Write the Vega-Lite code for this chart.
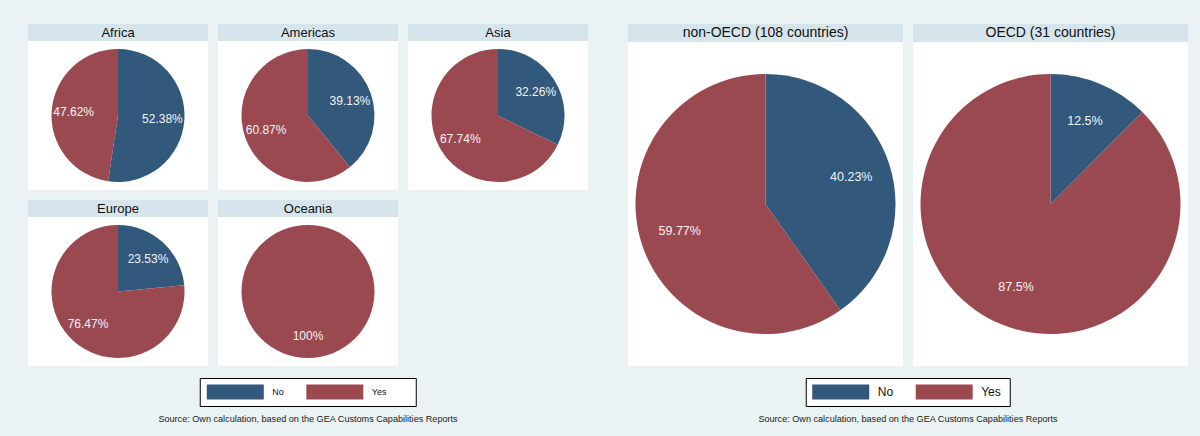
{
  "$schema": "https://vega.github.io/schema/vega-lite/v6.json",
  "background": "#eaf2f3",
  "padding": {"left": 28, "top": 24, "right": 12, "bottom": 13},
  "config": {"view": {"stroke": null}, "font": "Liberation Sans"},
  "datasets": {
    "pies": [
      {"group": "Africa", "cat": "No", "share": 0.5238},
      {"group": "Africa", "cat": "Yes", "share": 0.4762},
      {"group": "Americas", "cat": "No", "share": 0.3913},
      {"group": "Americas", "cat": "Yes", "share": 0.6087},
      {"group": "Asia", "cat": "No", "share": 0.3226},
      {"group": "Asia", "cat": "Yes", "share": 0.6774},
      {"group": "Europe", "cat": "No", "share": 0.2353},
      {"group": "Europe", "cat": "Yes", "share": 0.7647},
      {"group": "Oceania", "cat": "Yes", "share": 1.0},
      {"group": "non-OECD", "cat": "No", "share": 0.4023},
      {"group": "non-OECD", "cat": "Yes", "share": 0.5977},
      {"group": "OECD", "cat": "No", "share": 0.125},
      {"group": "OECD", "cat": "Yes", "share": 0.875}
    ]
  },
  "spacing": 40,
  "hconcat": [
    {
      "spacing": 11,
      "center": true,
      "vconcat": [
        {
          "columns": 3,
          "spacing": {"row": 10, "column": 10},
          "concat": [
            {"spacing": 0, "vconcat": [
              {"width": 180, "height": 17, "view": {"fill": "#d6e4eb"}, "data": {"values": [{"name": "Africa"}]}, "mark": {"type": "text", "fontSize": 13, "color": "#111111"}, "encoding": {"text": {"field": "name"}}},
              {"width": 180, "height": 149, "view": {"fill": "white"}, "data": {"name": "pies"}, "transform": [{"filter": "datum.group === 'Africa'"}],
               "layer": [
                 {"mark": {"type": "arc", "outerRadius": 66.5}, "encoding": {"theta": {"field": "share", "type": "quantitative", "stack": true}, "order": {"field": "cat", "type": "ordinal", "sort": "ascending"}, "color": {"field": "cat", "type": "nominal", "scale": {"domain": ["No", "Yes"], "range": ["#32587c", "#9b4950"]}, "legend": null}}},
                 {"mark": {"type": "text", "radius": 44.5, "fontSize": 12, "color": "#f4f4f4"}, "encoding": {"theta": {"field": "share", "type": "quantitative", "stack": true}, "order": {"field": "cat", "type": "ordinal", "sort": "ascending"}, "detail": {"field": "cat"}, "text": {"field": "share", "type": "quantitative", "format": ".2~%"}}}
               ]}
            ]},
            {"spacing": 0, "vconcat": [
              {"width": 180, "height": 17, "view": {"fill": "#d6e4eb"}, "data": {"values": [{"name": "Americas"}]}, "mark": {"type": "text", "fontSize": 13, "color": "#111111"}, "encoding": {"text": {"field": "name"}}},
              {"width": 180, "height": 149, "view": {"fill": "white"}, "data": {"name": "pies"}, "transform": [{"filter": "datum.group === 'Americas'"}],
               "layer": [
                 {"mark": {"type": "arc", "outerRadius": 66.5}, "encoding": {"theta": {"field": "share", "type": "quantitative", "stack": true}, "order": {"field": "cat", "type": "ordinal", "sort": "ascending"}, "color": {"field": "cat", "type": "nominal", "scale": {"domain": ["No", "Yes"], "range": ["#32587c", "#9b4950"]}, "legend": null}}},
                 {"mark": {"type": "text", "radius": 44.5, "fontSize": 12, "color": "#f4f4f4"}, "encoding": {"theta": {"field": "share", "type": "quantitative", "stack": true}, "order": {"field": "cat", "type": "ordinal", "sort": "ascending"}, "detail": {"field": "cat"}, "text": {"field": "share", "type": "quantitative", "format": ".2~%"}}}
               ]}
            ]},
            {"spacing": 0, "vconcat": [
              {"width": 180, "height": 17, "view": {"fill": "#d6e4eb"}, "data": {"values": [{"name": "Asia"}]}, "mark": {"type": "text", "fontSize": 13, "color": "#111111"}, "encoding": {"text": {"field": "name"}}},
              {"width": 180, "height": 149, "view": {"fill": "white"}, "data": {"name": "pies"}, "transform": [{"filter": "datum.group === 'Asia'"}],
               "layer": [
                 {"mark": {"type": "arc", "outerRadius": 66.5}, "encoding": {"theta": {"field": "share", "type": "quantitative", "stack": true}, "order": {"field": "cat", "type": "ordinal", "sort": "ascending"}, "color": {"field": "cat", "type": "nominal", "scale": {"domain": ["No", "Yes"], "range": ["#32587c", "#9b4950"]}, "legend": null}}},
                 {"mark": {"type": "text", "radius": 44.5, "fontSize": 12, "color": "#f4f4f4"}, "encoding": {"theta": {"field": "share", "type": "quantitative", "stack": true}, "order": {"field": "cat", "type": "ordinal", "sort": "ascending"}, "detail": {"field": "cat"}, "text": {"field": "share", "type": "quantitative", "format": ".2~%"}}}
               ]}
            ]},
            {"spacing": 0, "vconcat": [
              {"width": 180, "height": 17, "view": {"fill": "#d6e4eb"}, "data": {"values": [{"name": "Europe"}]}, "mark": {"type": "text", "fontSize": 13, "color": "#111111"}, "encoding": {"text": {"field": "name"}}},
              {"width": 180, "height": 149, "view": {"fill": "white"}, "data": {"name": "pies"}, "transform": [{"filter": "datum.group === 'Europe'"}],
               "layer": [
                 {"mark": {"type": "arc", "outerRadius": 66.5}, "encoding": {"theta": {"field": "share", "type": "quantitative", "stack": true}, "order": {"field": "cat", "type": "ordinal", "sort": "ascending"}, "color": {"field": "cat", "type": "nominal", "scale": {"domain": ["No", "Yes"], "range": ["#32587c", "#9b4950"]}, "legend": null}}},
                 {"mark": {"type": "text", "radius": 44.5, "fontSize": 12, "color": "#f4f4f4"}, "encoding": {"theta": {"field": "share", "type": "quantitative", "stack": true}, "order": {"field": "cat", "type": "ordinal", "sort": "ascending"}, "detail": {"field": "cat"}, "text": {"field": "share", "type": "quantitative", "format": ".2~%"}}}
               ]}
            ]},
            {"spacing": 0, "vconcat": [
              {"width": 180, "height": 17, "view": {"fill": "#d6e4eb"}, "data": {"values": [{"name": "Oceania"}]}, "mark": {"type": "text", "fontSize": 13, "color": "#111111"}, "encoding": {"text": {"field": "name"}}},
              {"width": 180, "height": 149, "view": {"fill": "white"}, "data": {"name": "pies"}, "transform": [{"filter": "datum.group === 'Oceania'"}],
               "layer": [
                 {"mark": {"type": "arc", "outerRadius": 66.5}, "encoding": {"theta": {"field": "share", "type": "quantitative", "stack": true}, "order": {"field": "cat", "type": "ordinal", "sort": "ascending"}, "color": {"field": "cat", "type": "nominal", "scale": {"domain": ["No", "Yes"], "range": ["#32587c", "#9b4950"]}, "legend": null}}},
                 {"mark": {"type": "text", "radius": 44.5, "fontSize": 12, "color": "#f4f4f4"}, "encoding": {"theta": {"field": "share", "type": "quantitative", "stack": true}, "order": {"field": "cat", "type": "ordinal", "sort": "ascending"}, "detail": {"field": "cat"}, "text": {"field": "share", "type": "quantitative", "format": ".2~%"}}}
               ]}
            ]}
          ]
        },
        {
          "spacing": 6,
          "center": true,
          "vconcat": [
            {"width": 216, "height": 28, "view": {"fill": "white", "stroke": "black", "strokeWidth": 1},
             "data": {"values": [{"cat": "No"}, {"cat": "Yes"}]},
             "encoding": {"x": {"field": "cat", "type": "nominal", "scale": {"type": "point", "padding": 0.585}, "axis": null}},
             "layer": [
               {"mark": {"type": "point", "shape": "M-1,-0.263H1V0.263H-1Z", "size": 3249, "filled": true, "opacity": 1, "strokeWidth": 0, "xOffset": -22.7}, "encoding": {"color": {"field": "cat", "type": "nominal", "scale": {"domain": ["No", "Yes"], "range": ["#32587c", "#9b4950"]}, "legend": null}}},
               {"mark": {"type": "text", "align": "left", "xOffset": 14.3, "fontSize": 9, "color": "#111111"}, "encoding": {"text": {"field": "cat"}}}
             ]},
            {"width": 300, "height": 12, "data": {"values": [{"t": "Source: Own calculation, based on the GEA Customs Capabilities Reports"}]}, "mark": {"type": "text", "fontSize": 9.1, "color": "#222222"}, "encoding": {"text": {"field": "t"}}}
          ]
        }
      ]
    },
    {
      "spacing": 11,
      "center": true,
      "vconcat": [
        {
          "spacing": 10,
          "hconcat": [
            {"spacing": 0, "vconcat": [
              {"width": 275, "height": 18, "view": {"fill": "#d6e4eb"}, "data": {"values": [{"name": "non-OECD (108 countries)"}]}, "mark": {"type": "text", "fontSize": 14, "color": "#111111"}, "encoding": {"text": {"field": "name"}}},
              {"width": 275, "height": 324, "view": {"fill": "white"}, "data": {"name": "pies"}, "transform": [{"filter": "datum.group === 'non-OECD'"}],
               "layer": [
                 {"mark": {"type": "arc", "outerRadius": 130}, "encoding": {"theta": {"field": "share", "type": "quantitative", "stack": true}, "order": {"field": "cat", "type": "ordinal", "sort": "ascending"}, "color": {"field": "cat", "type": "nominal", "scale": {"domain": ["No", "Yes"], "range": ["#32587c", "#9b4950"]}, "legend": null}}},
                 {"mark": {"type": "text", "radius": 90, "fontSize": 12.5, "color": "#f4f4f4"}, "encoding": {"theta": {"field": "share", "type": "quantitative", "stack": true}, "order": {"field": "cat", "type": "ordinal", "sort": "ascending"}, "detail": {"field": "cat"}, "text": {"field": "share", "type": "quantitative", "format": ".2~%"}}}
               ]}
            ]},
            {"spacing": 0, "vconcat": [
              {"width": 275, "height": 18, "view": {"fill": "#d6e4eb"}, "data": {"values": [{"name": "OECD (31 countries)"}]}, "mark": {"type": "text", "fontSize": 14, "color": "#111111"}, "encoding": {"text": {"field": "name"}}},
              {"width": 275, "height": 324, "view": {"fill": "white"}, "data": {"name": "pies"}, "transform": [{"filter": "datum.group === 'OECD'"}],
               "layer": [
                 {"mark": {"type": "arc", "outerRadius": 130}, "encoding": {"theta": {"field": "share", "type": "quantitative", "stack": true}, "order": {"field": "cat", "type": "ordinal", "sort": "ascending"}, "color": {"field": "cat", "type": "nominal", "scale": {"domain": ["No", "Yes"], "range": ["#32587c", "#9b4950"]}, "legend": null}}},
                 {"mark": {"type": "text", "radius": 90, "fontSize": 12.5, "color": "#f4f4f4"}, "encoding": {"theta": {"field": "share", "type": "quantitative", "stack": true}, "order": {"field": "cat", "type": "ordinal", "sort": "ascending"}, "detail": {"field": "cat"}, "text": {"field": "share", "type": "quantitative", "format": ".2~%"}}}
               ]}
            ]}
          ]
        },
        {
          "spacing": 6,
          "center": true,
          "vconcat": [
            {"width": 204, "height": 28, "view": {"fill": "white", "stroke": "black", "strokeWidth": 1},
             "data": {"values": [{"cat": "No"}, {"cat": "Yes"}]},
             "encoding": {"x": {"field": "cat", "type": "nominal", "scale": {"type": "point", "padding": 0.486}, "axis": null}},
             "layer": [
               {"mark": {"type": "point", "shape": "M-1,-0.263H1V0.263H-1Z", "size": 3249, "filled": true, "opacity": 1, "strokeWidth": 0, "xOffset": -15.3}, "encoding": {"color": {"field": "cat", "type": "nominal", "scale": {"domain": ["No", "Yes"], "range": ["#32587c", "#9b4950"]}, "legend": null}}},
               {"mark": {"type": "text", "align": "left", "xOffset": 21.7, "fontSize": 12, "color": "#111111"}, "encoding": {"text": {"field": "cat"}}}
             ]},
            {"width": 300, "height": 12, "data": {"values": [{"t": "Source: Own calculation, based on the GEA Customs Capabilities Reports"}]}, "mark": {"type": "text", "fontSize": 9.1, "color": "#222222"}, "encoding": {"text": {"field": "t"}}}
          ]
        }
      ]
    }
  ]
}
